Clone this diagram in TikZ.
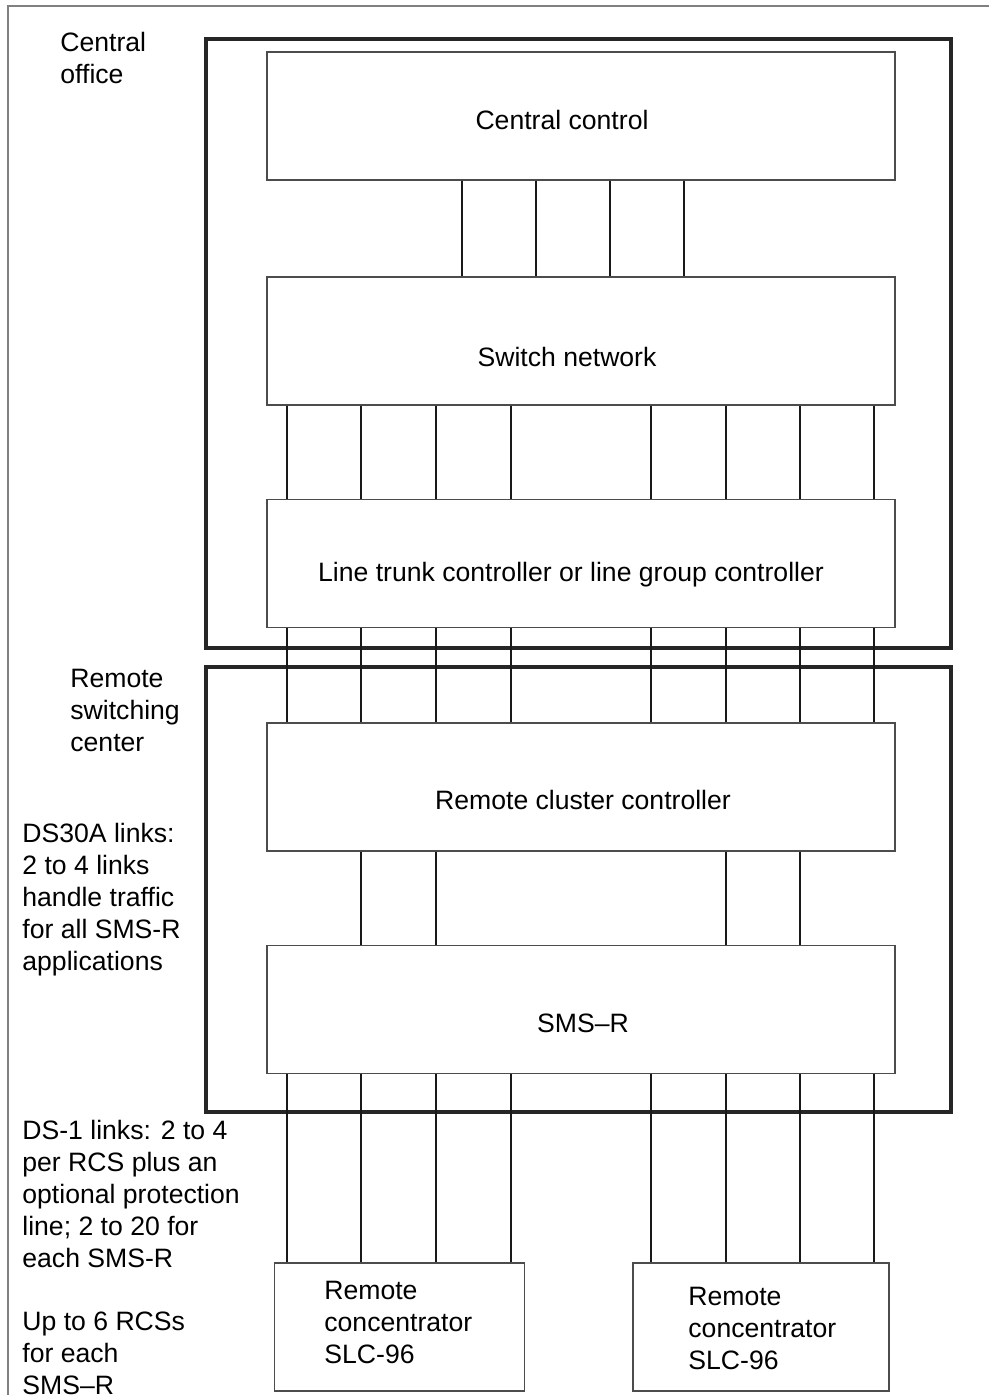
\documentclass[tikz,border=0pt]{standalone}
\usepackage{fontspec}
\setmainfont{Liberation Sans}
\usetikzlibrary{calc}

\begin{document}
\begin{tikzpicture}[x=0.5pt,y=-0.5pt,
    unit/.style={draw=black!70, line width=0.7pt, minimum width=314pt, minimum height=64pt, inner sep=0pt},
    site/.style={draw=black!85, line width=1.8pt, inner sep=0pt},
    link/.style={draw=black!90, line width=1pt},
    note/.style={align=left, anchor=west, inner sep=0pt, font=\fontsize{13.3}{16}\selectfont},
    lbl/.style={inner sep=0pt, font=\fontsize{13.3}{16}\selectfont}]
    \useasboundingbox (0,0) rectangle (989,1395);
    \draw[gray, line width=0.6pt] (8,1395) -- (8,6) -- (989,6);

    % the two sites
    \node[site, minimum width=372.5pt, minimum height=304.5pt] (co) at (578.5,343.5) {};
    \node[site, minimum width=372.5pt, minimum height=222.5pt] (rsc) at (578.5,889.5) {};

    % units
    \node[unit] (cc) at (581,116) {};
    \node[unit] (sn) at (581,341) {};
    \node[unit] (ltc) at (581,563.5) {};
    \node[unit] (rcc) at (581,787) {};
    \node[unit] (sms) at (581,1009.5) {};
    \node[unit, minimum width=125pt] (rc1) at (399.5,1327) {};
    \node[unit, minimum width=128pt] (rc2) at (761,1327) {};

    \node[lbl] (cctxt) at (562,120) {Central control};
    \node[lbl] (sntxt) at (567,357) {Switch network};
    \node[lbl] (ltctxt) at (571,575) {Line trunk controller or line group controller};
    \node[lbl] (rcctxt) at (583,800) {Remote cluster controller};
    \node[lbl] (smstxt) at (583,1023) {SMS–R};
    \node[note] (rc1txt) at (324,1322) {Remote\\concentrator\\SLC-96};
    \node[note] (rc2txt) at (688,1328) {Remote\\concentrator\\SLC-96};

    % links
    \foreach \x in {462,536,610,684}
      \draw[link] (cc.south -| \x,0) -- (sn.north -| \x,0);
    \foreach \x in {287,361,436,511,651,726,800,874} {
      \draw[link] (sn.south -| \x,0) -- (ltc.north -| \x,0);
      \draw[link] (ltc.south -| \x,0) -- (rcc.north -| \x,0);
    }
    \foreach \x in {361,436,726,800}
      \draw[link] (rcc.south -| \x,0) -- (sms.north -| \x,0);
    \foreach \x in {287,361,436,511}
      \draw[link] (sms.south -| \x,0) -- (rc1.north -| \x,0);
    \foreach \x in {651,726,800,874}
      \draw[link] (sms.south -| \x,0) -- (rc2.north -| \x,0);

    % side notes
    \node[note] (colbl) at (60,58) {Central\\office};
    \node[note] (rsclbl) at (70,710) {Remote\\switching\\center};
    \node[note] (ds30) at (22,900) {DS30A links:\\2 to 4 links\\handle traffic\\for all SMS-R\\applications};
    \node[note] (ds1) at (22,1194) {DS-1 links: 2 to 4\\per RCS plus an\\optional protection\\line; 2 to 20 for\\each SMS-R};
    \node[note] (rcslbl) at (22,1353) {Up to 6 RCSs\\for each\\SMS–R};
\end{tikzpicture}
\end{document}
